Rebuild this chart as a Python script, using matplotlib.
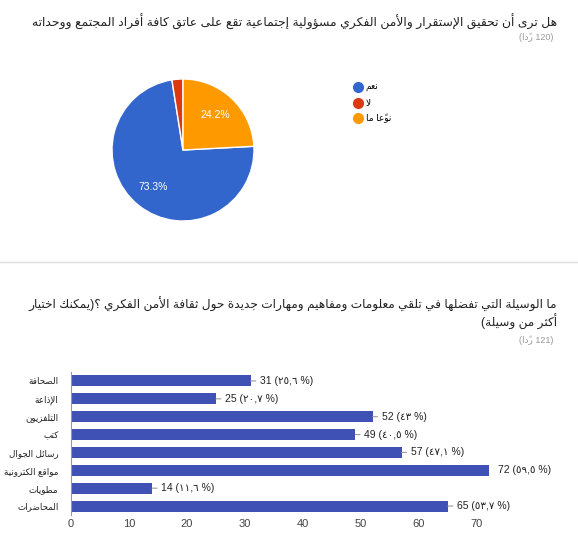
import re
import matplotlib
matplotlib.use("Agg")
import matplotlib.pyplot as plt
from matplotlib.lines import Line2D

plt.rcParams['font.family'] = ['Liberation Sans', 'DejaVu Sans']

# question 1 (pie)
q1_title = "هل ترى أن تحقيق الإستقرار والأمن الفكري مسؤولية إجتماعية تقع على عاتق كافة أفراد المجتمع ووحداته"
q1_count = 120
q1_answers = ["نعم", "لا", "نوعًا ما"]
q1_values = [88, 3, 29]
q1_colors = ["#3366cc", "#dc3912", "#ff9900"]

# question 2 (bars)
q2_title = ["ما الوسيلة التي تفضلها في تلقي معلومات ومفاهيم ومهارات جديدة حول ثقافة الأمن الفكري ؟(يمكنك اختيار",
            "أكثر من وسيلة)"]
q2_count = 121
q2_options = ["الصحافة", "الإذاعة", "التلفزيون", "كتب", "رسائل الجوال", "مواقع الكترونية", "مطويات", "المحاضرات"]
q2_values = [31, 25, 52, 49, 57, 72, 14, 65]
q2_percents = ["٢٥,٦", "٢٠,٧", "٤٣", "٤٠,٥", "٤٧,١", "٥٩,٥", "١١,٦", "٥٣,٧"]
count_word = "ردًا"

# --- crude arabic shaping, since matplotlib does no text layout for it ---
_seq = [("ء", 1), ("آ", 2), ("أ", 2), ("ؤ", 2), ("إ", 2), ("ئ", 4), ("ا", 2), ("ب", 4), ("ة", 2),
        ("ت", 4), ("ث", 4), ("ج", 4), ("ح", 4), ("خ", 4), ("د", 2), ("ذ", 2), ("ر", 2), ("ز", 2),
        ("س", 4), ("ش", 4), ("ص", 4), ("ض", 4), ("ط", 4), ("ظ", 4), ("ع", 4), ("غ", 4), ("ف", 4),
        ("ق", 4), ("ك", 4), ("ل", 4), ("م", 4), ("ن", 4), ("ه", 4), ("و", 2), ("ى", 2), ("ي", 4)]
forms = {}
code = 0xFE80
for ch, n in _seq:
    forms[ch] = [chr(code + k) for k in range(n)]
    code += n
lam_alef = {"آ": (0xFEF5, 0xFEF6), "أ": (0xFEF7, 0xFEF8), "إ": (0xFEF9, 0xFEFA), "ا": (0xFEFB, 0xFEFC)}
mirror = {"(": ")", ")": "("}


def is_mark(c):
    return '\u064b' <= c <= '\u0652'


def shape(s):
    chars = list(s)

    def nb(idx, step):
        j = idx + step
        while 0 <= j < len(chars) and is_mark(chars[j]):
            j += step
        return j if 0 <= j < len(chars) else None

    out = []
    i = 0
    while i < len(chars):
        c = chars[i]
        if c not in forms:
            out.append(c)
            i += 1
            continue
        p = nb(i, -1)
        joins_prev = p is not None and chars[p] in forms and len(forms[chars[p]]) == 4
        n = nb(i, 1)
        nxt = chars[n] if n is not None else None
        if c == "ل" and nxt in lam_alef:
            out.append(chr(lam_alef[nxt][1 if joins_prev else 0]))
            out.extend(chars[i + 1:n])
            i = n + 1
            continue
        joins_next = len(forms[c]) == 4 and nxt in forms and nxt != "ء"
        if joins_prev and joins_next:
            k = 3
        elif joins_prev:
            k = 1
        elif joins_next:
            k = 2
        else:
            k = 0
        out.append(forms[c][min(k, len(forms[c]) - 1)])
        i += 1
    return "".join(out)


def rtl(s):
    clusters = []
    for tok in re.findall(r'[0-9]+|.', shape(s)):
        if is_mark(tok) and clusters:
            clusters[-1] += tok
        else:
            clusters.append(mirror.get(tok, tok))
    return "".join(reversed(clusters))


W, H = 578, 542
fig = plt.figure(figsize=(W / 100, H / 100), dpi=100)
renderer = fig.canvas.get_renderer()


def fx(px):
    return px / W


def fy(py):
    return 1 - py / H


def fit(t, width_px):
    # shrink the title so it spans about the same width as in the form
    w = t.get_window_extent(renderer).width
    t.set_fontsize(t.get_fontsize() * width_px / w)


# ---- top panel ----
t1 = fig.text(fx(557), fy(22), rtl(q1_title), ha='right', va='center', fontsize=10, color='#212121')
fit(t1, 527)
fig.text(fx(553), fy(37), rtl(f"({q1_count} {count_word})"), ha='right', va='center', fontsize=6.5, color='#999999')

ax1 = fig.add_axes([fx(183 - 71), fy(150 + 71), 142 / W, 142 / H])
ax1.pie(q1_values, colors=q1_colors, startangle=3, counterclock=False,
        wedgeprops=dict(edgecolor='white', linewidth=1),
        autopct=lambda p: f"{p:.1f}%" if p > 5 else "", pctdistance=0.67,
        textprops=dict(color='white', fontsize=7.5))
ax1.set_xlim(-1, 1)
ax1.set_ylim(-1, 1)
ax1.set_aspect('equal')

handles = [Line2D([], [], marker='o', linestyle='', markersize=7, color=c) for c in q1_colors]
fig.legend(handles, [rtl(a) for a in q1_answers], loc='upper left', bbox_to_anchor=(fx(345), fy(75)),
           frameon=False, fontsize=6.5, handletextpad=0.4, labelspacing=0.7, handlelength=1.0)

fig.add_artist(Line2D([0, 1], [fy(262), fy(262)], transform=fig.transFigure, color='#e0e0e0', linewidth=1))

# ---- bottom panel ----
t2 = fig.text(fx(557), fy(304), rtl(q2_title[0]), ha='right', va='center', fontsize=10, color='#212121')
fit(t2, 530)
fig.text(fx(557), fy(322), rtl(q2_title[1]), ha='right', va='center', fontsize=t2.get_fontsize(), color='#212121')
fig.text(fx(553), fy(340), rtl(f"({q2_count} {count_word})"), ha='right', va='center', fontsize=6.5, color='#999999')

ax2 = fig.add_axes([fx(71), fy(515), 464 / W, 143 / H])
ypos = list(range(len(q2_options)))
ax2.barh(ypos, q2_values, height=0.62, color='#3f51b5')
ax2.set_ylim(len(q2_options) - 0.5, -0.5)
ax2.set_xlim(0, 80)
ax2.set_xticks(range(0, 80, 10))
ax2.set_yticks(ypos, [rtl(o) for o in q2_options])
for s in ['top', 'right', 'bottom']:
    ax2.spines[s].set_visible(False)
ax2.spines['left'].set_color('#999999')
ax2.tick_params(axis='x', length=0, labelsize=8, labelcolor='#444444', pad=3)
ax2.tick_params(axis='y', length=0, labelsize=6.3, labelcolor='#222222', pad=9)

top = max(q2_values)
for i, (v, pct) in enumerate(zip(q2_values, q2_percents)):
    arrow = None if v == top else dict(arrowstyle='-', color='#999999', lw=0.8, shrinkA=1, shrinkB=0)
    ax2.annotate(f"{v} ({pct} %)", (v, i), xytext=(6.5, 0), textcoords='offset points',
                 ha='left', va='center', fontsize=7.5, color='#222222', arrowprops=arrow,
                 annotation_clip=False)

fig.savefig("out.png", dpi=100)
